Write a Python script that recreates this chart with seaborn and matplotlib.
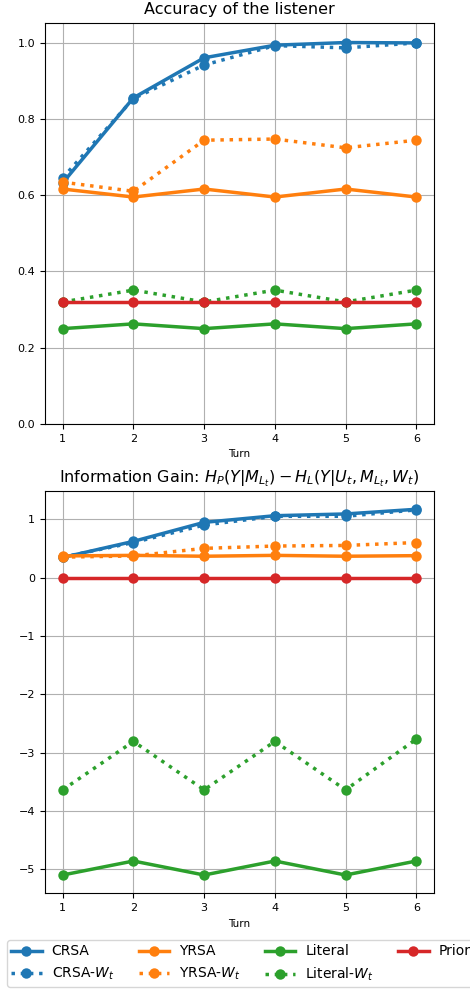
import matplotlib
matplotlib.use("Agg")
import matplotlib.pyplot as plt
import seaborn as sns
import numpy as np

turns = [1, 2, 3, 4, 5, 6]

# Accuracy of the listener
acc_crsa = [0.632, 0.855, 0.960, 0.993, 1.000, 0.999]
acc_crsa_w = [0.645, 0.853, 0.941, 0.992, 0.986, 0.999]
acc_yrsa = [0.616, 0.595, 0.616, 0.595, 0.616, 0.595]
acc_yrsa_w = [0.634, 0.610, 0.744, 0.747, 0.724, 0.744]
acc_lit = [0.250, 0.2625, 0.250, 0.2625, 0.250, 0.2625]
acc_lit_w = [0.320, 0.351, 0.320, 0.351, 0.320, 0.351]
acc_prior = [0.321, 0.321, 0.321, 0.321, 0.321, 0.321]

# Information gain
ig_crsa = [0.344, 0.62, 0.946, 1.06, 1.09, 1.17]
ig_crsa_w = [0.35, 0.60, 0.90, 1.05, 1.05, 1.16]
ig_yrsa = [0.37, 0.38, 0.365, 0.38, 0.365, 0.375]
ig_yrsa_w = [0.35, 0.37, 0.50, 0.54, 0.55, 0.60]
ig_lit = [-5.10, -4.86, -5.10, -4.86, -5.10, -4.86]
ig_lit_w = [-3.64, -2.81, -3.64, -2.81, -3.64, -2.77]
ig_prior = [0.0, 0.0, 0.0, 0.0, 0.0, 0.0]

labels = ["CRSA", "CRSA-$W_t$", "YRSA", "YRSA-$W_t$", "Literal", "Literal-$W_t$", "Prior"]
colors = ["#1f77b4", "#1f77b4", "#ff7f0e", "#ff7f0e", "#2ca02c", "#2ca02c", "#d62728"]
styles = ["-", ":", "-", ":", "-", ":", "-"]

fig = plt.figure(figsize=(4.7, 9.9), dpi=100)
ax1 = fig.add_axes([45/470, 1-424/990, 389/470, (424-22.7)/990])
ax2 = fig.add_axes([45/470, 1-893.3/990, 389/470, (893.3-491)/990])

def draw(ax, series):
    for y, lab, c, ls in zip(series, labels, colors, styles):
        sns.lineplot(x=turns, y=y, ax=ax, color=c, linestyle=ls, lw=2.5,
                     marker="o", markersize=7.5, markeredgewidth=0, label=lab, legend=False)
    ax.grid(True)
    ax.set_xticks(turns)
    ax.tick_params(labelsize=8)
    ax.set_xlabel("Turn", fontsize=7.5)
    ax.set_ylabel("")

draw(ax1, [acc_crsa, acc_crsa_w, acc_yrsa, acc_yrsa_w, acc_lit, acc_lit_w, acc_prior])
ax1.set_ylim(0, 1.052)
ax1.set_title("Accuracy of the listener", fontsize=11.5)

draw(ax2, [ig_crsa, ig_crsa_w, ig_yrsa, ig_yrsa_w, ig_lit, ig_lit_w, ig_prior])
ax2.set_title(r"Information Gain: $H_P(Y|M_{L_t}) - H_L(Y|U_t, M_{L_t}, W_t)$", fontsize=11.5)

handles, labs = ax1.get_legend_handles_labels()
fig.legend(handles, labs, loc="lower left", bbox_to_anchor=(7/470, 3/990),
           ncol=4, fontsize=10, handlelength=2.2, borderaxespad=0,
           borderpad=0.3, handletextpad=0.72, columnspacing=1.75)

fig.savefig("out.png", dpi=100)
